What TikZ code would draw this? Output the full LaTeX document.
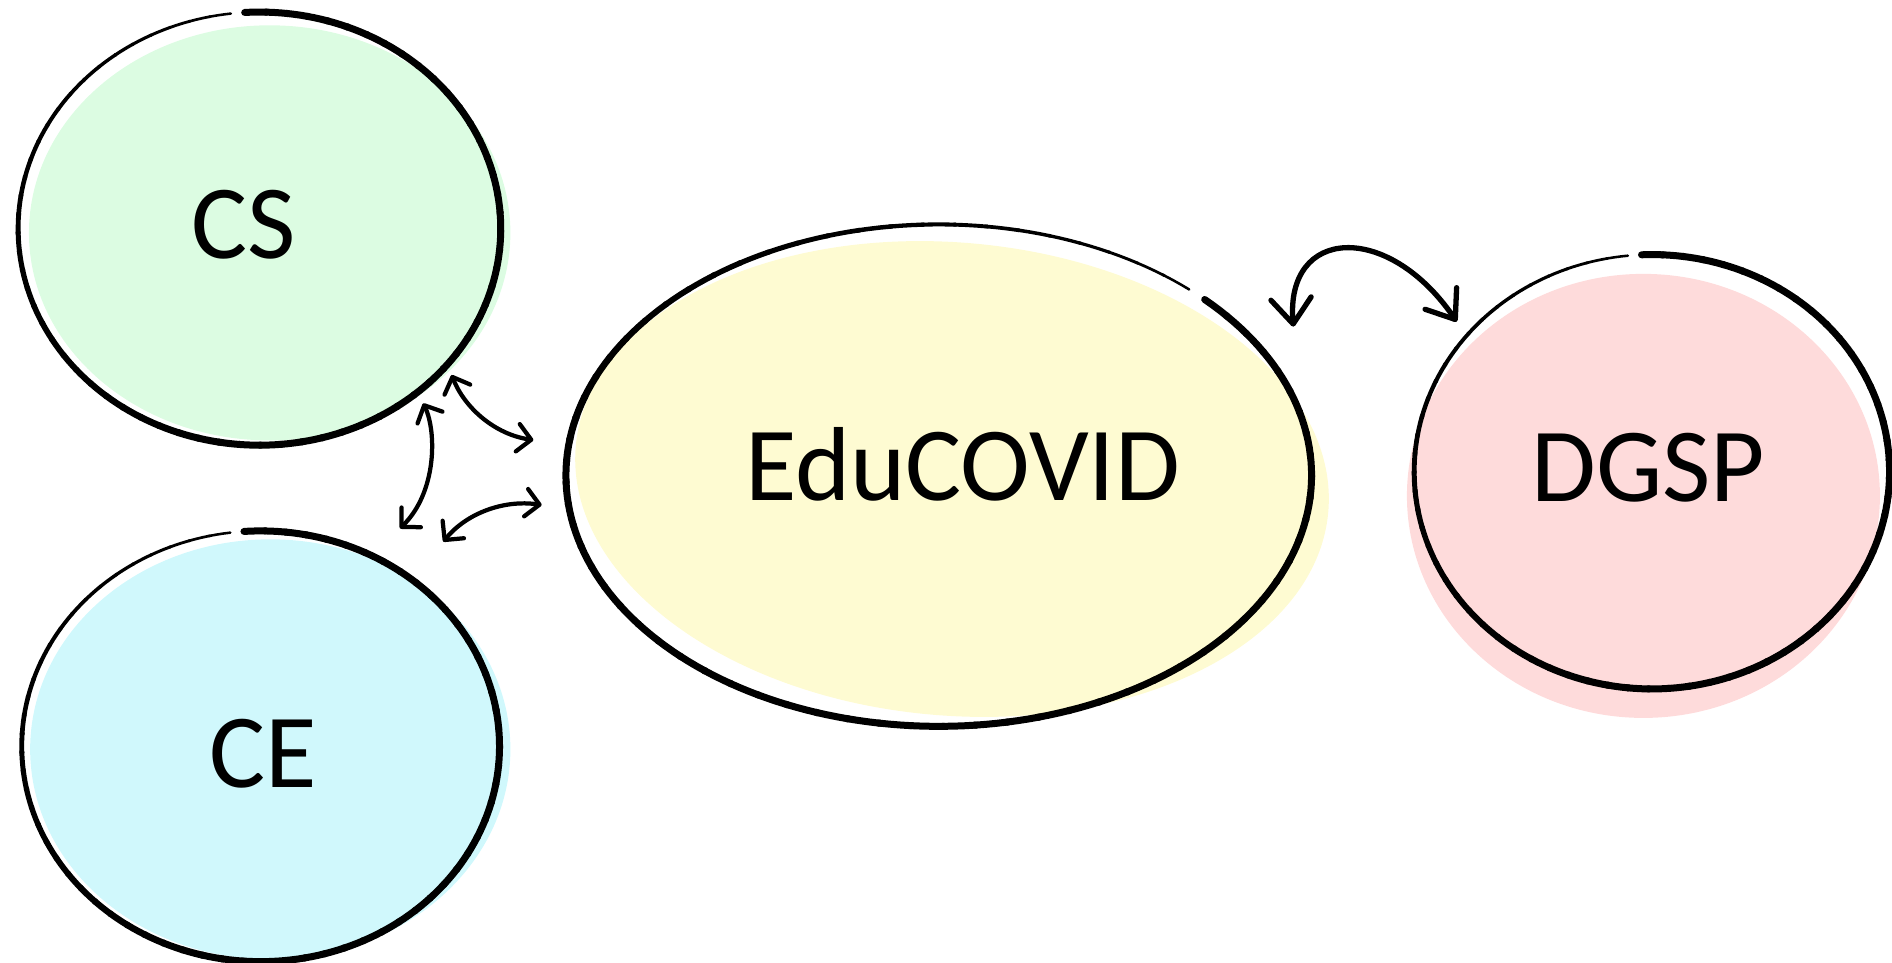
\documentclass[tikz,border=0pt]{standalone}
\usepackage{fontspec}
\setmainfont{Carlito}
\usetikzlibrary{arrows.meta}
\definecolor{csfill}{HTML}{DCFCE2}
\definecolor{cefill}{HTML}{D0F8FC}
\definecolor{edufill}{HTML}{FEFBD2}
\definecolor{dgfill}{HTML}{FEDBDB}
\newcommand{\sketchring}[6]{%
  \foreach \k in {0,...,71}{%
    \pgfmathsetmacro{\aS}{#5-1.5-\k*4.95}%
    \pgfmathsetmacro{\aE}{\aS-5.25}%
    \pgfmathsetmacro{\wd}{\k<#6 ? 1.65 : 1.65-(\k-#6)/(71-#6)*1.05}%
    \draw[line width=\wd pt, line cap=round, line join=round]
      plot[domain=\aE:\aS, samples=4] ({#1+#3*cos(\x)},{#2+#4*sin(\x)});
  }%
}
\tikzset{
  lbl/.style={anchor=base, inner sep=0pt, font=\fontsize{24.8}{30}\selectfont},
  dbl/.style={line width=1pt, line cap=round,
    {Straight Barb[round,length=3.2pt,width=6.5pt]}-{Straight Barb[round,length=3.2pt,width=6.5pt]}},
  dblbig/.style={line width=1.25pt, line cap=round,
    {Straight Barb[round,length=6pt,width=9.5pt]}-{Straight Barb[round,length=6pt,width=9pt]}}
}
\begin{document}
\begin{tikzpicture}[x=0.01cm,y=0.01cm]
\useasboundingbox (0,0) rectangle (1568,798);
% fills
\fill[csfill] (223.5,605) ellipse [x radius=199.5, y radius=172];
\fill[cefill] (224,177) ellipse [x radius=199, y radius=174];
\fill[edufill, rotate around={-5:(789,401)}] (789,401) ellipse [x radius=313, y radius=196];
\fill[dgfill] (1362,387) ellipse [x radius=196, y radius=184];
% outlines
\sketchring{215}{608.5}{200}{179.5}{95}{40}
\sketchring{216}{179.5}{198}{178.5}{95.5}{40}
\sketchring{778}{404}{309}{208}{46}{48}
\sketchring{1369}{407}{197}{180}{94}{40}
% labels
\node[lbl] (cs) at (202,584) {CS};
\node[lbl] (ce) at (218,145) {CE};
\node[lbl] (edu) at (798,383) {EduCOVID};
\node[lbl] (dgsp) at (1366,382) {DGSP};
% connector ends
\coordinate (a1s) at (374.3,487.2);
\coordinate (a1e) at (442,433.3);
\coordinate (a2s) at (350.8,463.7);
\coordinate (a2e) at (331.5,360.1);
\coordinate (a3s) at (367.4,349.1);
\coordinate (a3e) at (448.9,379.5);
\coordinate (a4s) at (1071.9,527.3);
\coordinate (a4e) at (1207.3,531.4);
\draw[dbl] (a1s) .. controls (385,460) and (410,438) .. (a1e);
\draw[dbl] (a2s) .. controls (362,440) and (362,390) .. (a2e);
\draw[dbl] (a3s) .. controls (387,373) and (418,384) .. (a3e);
\draw[dblbig] (a4s) .. controls (1065,610) and (1150,615) .. (a4e);
\end{tikzpicture}
\end{document}
